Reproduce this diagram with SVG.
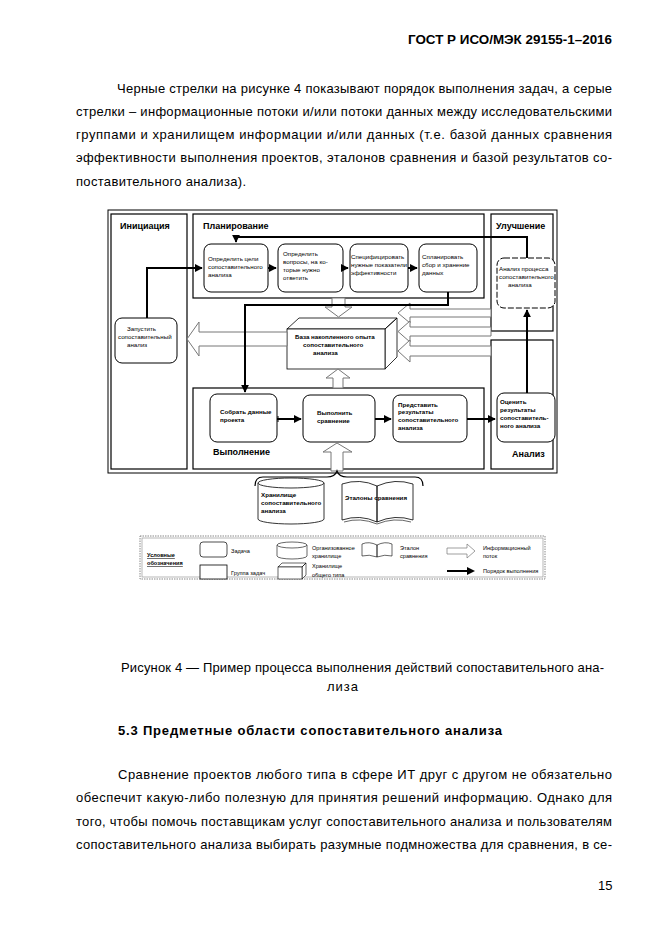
<svg xmlns="http://www.w3.org/2000/svg" width="661" height="934" viewBox="0 0 661 934">
<style>
.body{font-family:"Liberation Sans",Arial,sans-serif;font-size:13px;fill:#000}
.bold{font-weight:bold}
.t{font-family:"Liberation Sans",Arial,sans-serif;font-size:6.2px;fill:#000}
.tb{font-family:"Liberation Sans",Arial,sans-serif;font-size:6.2px;font-weight:bold;fill:#000}
.ttl{font-family:"Liberation Sans",Arial,sans-serif;font-size:9px;font-weight:bold;fill:#000}
.grp{fill:#fff;stroke:#000;stroke-width:1.2}
.task{fill:#fff;stroke:#000;stroke-width:1}
.info{fill:#fff;stroke:#777;stroke-width:1}
.flow{fill:none;stroke:#000;stroke-width:2}
.lg{font-family:"Liberation Sans",Arial,sans-serif;font-size:5.6px;fill:#000}
</style>
<defs>
<marker id="ah" viewBox="0 0 10 10" refX="9" refY="5" markerWidth="4" markerHeight="4" orient="auto" markerUnits="strokeWidth">
<path d="M0,0 L10,5 L0,10 Z" fill="#000"/>
</marker>
</defs>
<rect width="661" height="934" fill="#fff"/>

<text class="body bold" x="408" y="44" textLength="204" lengthAdjust="spacingAndGlyphs">ГОСТ Р ИСО/МЭК 29155-1–2016</text>

<g id="para1">
<text class="body" x="117" y="93" textLength="495" lengthAdjust="spacing">Черные стрелки на рисунке 4 показывают порядок выполнения задач, а серые</text>
<text class="body" x="76" y="116" textLength="536" lengthAdjust="spacing">стрелки – информационные потоки и/или потоки данных между исследовательскими</text>
<text class="body" x="76" y="139" textLength="536" lengthAdjust="spacing">группами и хранилищем информации и/или данных (т.е. базой данных сравнения</text>
<text class="body" x="76" y="162" textLength="536" lengthAdjust="spacing">эффективности выполнения проектов, эталонов сравнения и базой результатов со-</text>
<text class="body" x="76" y="186" textLength="170" lengthAdjust="spacing">поставительного анализа).</text>
</g>

<rect x="108" y="210" width="449" height="263" fill="none" stroke="#000" stroke-width="1"/>

<g id="initiation">
<rect class="grp" x="111" y="214" width="76" height="255"/>
<text class="ttl" x="120" y="229">Инициация</text>
</g>
<g id="planning">
<rect class="grp" x="193" y="214" width="291" height="84"/>
<text class="ttl" x="203" y="229">Планирование</text>
</g>
<g id="improvement">
<rect class="grp" x="491" y="214" width="62" height="117"/>
<text class="ttl" x="496" y="229">Улучшение</text>
</g>
<g id="analysis">
<rect class="grp" x="491" y="340" width="62" height="129"/>
<text class="ttl" x="512" y="457">Анализ</text>
</g>
<g id="execution">
<rect class="grp" x="193" y="388" width="291" height="81"/>
<text class="ttl" x="213" y="455">Выполнение</text>
</g>

<g id="task-goals">
<rect class="task" x="204" y="244" width="64" height="48" rx="7"/>
<text class="t" x="208" y="261">Определить цели</text>
<text class="t" x="208" y="269">сопоставительного</text>
<text class="t" x="208" y="277">анализа</text>
</g>
<g id="task-questions">
<rect class="task" x="278" y="244" width="65" height="48" rx="7"/>
<text class="t" x="283" y="256">Определить</text>
<text class="t" x="283" y="264">вопросы, на ко-</text>
<text class="t" x="283" y="272">торые нужно</text>
<text class="t" x="283" y="280">ответить</text>
</g>
<g id="task-metrics">
<rect class="task" x="350" y="244" width="58" height="48" rx="7"/>
<text class="t" x="351" y="259">Специфицировать</text>
<text class="t" x="351" y="267">нужные показатели</text>
<text class="t" x="351" y="275">эффективности</text>
</g>
<g id="task-plan-data">
<rect class="task" x="419" y="244" width="58" height="48" rx="7"/>
<text class="t" x="422" y="259">Спланировать</text>
<text class="t" x="422" y="267">сбор и хранение</text>
<text class="t" x="422" y="275">данных</text>
</g>
<g id="task-process-analysis">
<rect class="task" x="497" y="258" width="58" height="50" rx="7" stroke-dasharray="6,2"/>
<text class="t" x="499" y="271">Анализ процесса</text>
<text class="t" x="499" y="279">сопоставительного</text>
<text class="t" x="508" y="287">анализа</text>
</g>
<g id="task-launch">
<rect class="task" x="115" y="318" width="62" height="45" rx="7"/>
<text class="t" x="127" y="331">Запустить</text>
<text class="t" x="118" y="339">сопоставительный</text>
<text class="t" x="127" y="347">анализ</text>
</g>
<g id="base">
<path d="M287,329 L299,318 L397,318 L385,329 Z M385,329 L397,318 L397,357 L385,369 Z" fill="#fff" stroke="#000" stroke-width="0.8"/>
<rect x="287" y="329" width="98" height="40" fill="#fff" stroke="#000" stroke-width="0.8"/>
<text class="tb" x="295" y="339">База накопленного опыта</text>
<text class="tb" x="303" y="347">сопоставительного</text>
<text class="tb" x="313" y="355">анализа</text>
</g>
<g id="task-collect">
<rect class="task" x="210" y="394" width="67" height="48" rx="7"/>
<text class="tb" x="220" y="414">Собрать данные</text>
<text class="tb" x="220" y="422">проекта</text>
</g>
<g id="task-compare">
<rect class="task" x="303" y="395" width="72" height="47" rx="7"/>
<text class="tb" x="317" y="415">Выполнить</text>
<text class="tb" x="317" y="423">сравнение</text>
</g>
<g id="task-present">
<rect class="task" x="393" y="395" width="74" height="47" rx="7"/>
<text class="tb" x="398" y="407">Представить</text>
<text class="tb" x="398" y="414">результаты</text>
<text class="tb" x="398" y="422">сопоставительного</text>
<text class="tb" x="398" y="430">анализа</text>
</g>
<g id="task-evaluate">
<rect class="task" x="497" y="393" width="58" height="49" rx="7"/>
<text class="tb" x="500" y="404">Оценить</text>
<text class="tb" x="500" y="412">результаты</text>
<text class="tb" x="500" y="420">сопоставитель-</text>
<text class="tb" x="500" y="428">ного анализа</text>
</g>
<g id="storage">
<path d="M258,483 L258,519 A33,5 0 0 0 324,519 L324,483" fill="#fff" stroke="#000" stroke-width="0.8"/>
<ellipse cx="291" cy="483" rx="33" ry="5" fill="#fff" stroke="#000" stroke-width="0.8"/>
<text class="tb" x="261" y="497">Хранилище</text>
<text class="tb" x="261" y="505">сопоставительного</text>
<text class="tb" x="261" y="513">анализа</text>
</g>
<g id="benchmarks">
<path d="M342,484 Q360,478 377,486 L377,522 Q360,514 342,520 Z M377,486 Q395,478 413,484 L413,520 Q395,514 377,522 Z" fill="#fff" stroke="#000" stroke-width="0.8"/>
<path d="M344,522 Q360,517 377,524 Q394,517 411,522" fill="none" stroke="#000" stroke-width="0.6"/>
<text class="tb" x="345" y="500">Эталоны сравнения</text>
</g>

<g id="connectors">
<path class="info" d="M332,298 L345,298 L345,307 L352,307 L338.5,317 L325,307 L332,307 Z"/>
<path class="info" d="M287,332 L199,332 L199,322 L187,339 L199,356 L199,346 L287,346 Z"/>
<path class="info" d="M333,388 L333,378 L326,378 L338,369 L350,378 L343,378 L343,388 Z"/>
<path class="info" d="M331,471 L331,452 L323,452 L337,443 L352,452 L343,452 L343,471 Z"/>
<path class="info" d="M491,309 L410,309 L410,303 L398,313 L410,323 L410,317 L491,317 Z"/>
<path class="info" d="M491,327 L410,327 L410,321 L398,331.5 L410,342 L410,336 L491,336 Z"/>
<path class="info" d="M491,346 L410,346 L410,340 L398,351 L410,362 L410,356 L491,356 Z"/>
<path d="M255,486 Q255,477 263,477 L327,477 Q335,477 337,471 Q339,477 347,477 L415,477 Q423,477 423,486" fill="none" stroke="#000" stroke-width="1.2"/>

<path class="flow" d="M147,318 L147,268 L202,268" marker-end="url(#ah)"/>
<path class="flow" d="M268,268 L276,268" marker-end="url(#ah)"/>
<path class="flow" d="M343,268 L348,268" marker-end="url(#ah)"/>
<path class="flow" d="M408,268 L417,268" marker-end="url(#ah)"/>
<path class="flow" d="M448,292 L448,305 L245,305 L245,392" marker-end="url(#ah)"/>
<path class="flow" d="M527,258 L527,237 L236,237 L236,242" marker-end="url(#ah)"/>
<path class="flow" d="M527,393 L527,310" marker-end="url(#ah)"/>
<path class="flow" d="M277,419 L301,419" marker-end="url(#ah)"/>
<path d="M278,416 L278,422" stroke="#000" stroke-width="1"/>
<path class="flow" d="M375,419 L391,419" marker-end="url(#ah)"/>
<path class="flow" d="M467,419 L495,419" marker-end="url(#ah)"/>
</g>

<g id="legend">
<rect x="140" y="536" width="405" height="43" fill="none" stroke="#888" stroke-width="1" stroke-dasharray="1.5,1"/>
<rect x="142" y="538" width="401" height="39" fill="none" stroke="#888" stroke-width="0.6"/>
<text class="lg" x="147" y="557" font-weight="bold" text-decoration="underline">Условные</text>
<text class="lg" x="147" y="565" font-weight="bold" text-decoration="underline">обозначения</text>
<rect x="200" y="542" width="27" height="15" rx="3" fill="#fff" stroke="#000" stroke-width="0.7"/>
<text class="lg" x="231" y="553">Задача</text>
<rect x="200" y="565" width="27" height="14" fill="#fff" stroke="#000" stroke-width="0.8"/>
<text class="lg" x="231" y="575">Группа задач</text>
<path d="M277,545 L277,556 A15,3 0 0 0 307,556 L307,545" fill="#fff" stroke="#000" stroke-width="0.6"/>
<ellipse cx="292" cy="545" rx="15" ry="3" fill="#fff" stroke="#000" stroke-width="0.6"/>
<text class="lg" x="312" y="550">Организованное</text>
<text class="lg" x="312" y="558">хранилище</text>
<path d="M278,567 L282,563 L306,563 L302,567 Z M302,567 L306,563 L306,575 L302,579 Z" fill="#fff" stroke="#000" stroke-width="0.6"/>
<rect x="278" y="567" width="24" height="12" fill="#fff" stroke="#000" stroke-width="0.6"/>
<text class="lg" x="312" y="568">Хранилище</text>
<text class="lg" x="312" y="577">общего типа</text>
<path d="M362,544 Q369,541 377,545 L377,557 Q369,554 362,556 Z M377,545 Q385,541 392,544 L392,556 Q385,554 377,557 Z" fill="#fff" stroke="#000" stroke-width="0.6"/>
<text class="lg" x="400" y="550">Эталон</text>
<text class="lg" x="400" y="558">сравнения</text>
<path d="M447,548 L467,548 L467,544 L475,551 L467,558 L467,554 L447,554 Z" fill="#fff" stroke="#777" stroke-width="0.7"/>
<text class="lg" x="483" y="550">Информационный</text>
<text class="lg" x="483" y="558">поток</text>
<path d="M447,571 L468,571" stroke="#000" stroke-width="2"/>
<path d="M467,567 L475,571 L467,575 Z" fill="#000"/>
<text class="lg" x="483" y="573">Порядок выполнения</text>
</g>

<text class="body" x="121" y="672" textLength="483" lengthAdjust="spacing">Рисунок 4 — Пример процесса выполнения действий сопоставительного ана-</text>
<text class="body" x="327" y="691" textLength="31" lengthAdjust="spacing">лиза</text>

<text class="body bold" x="118" y="735" textLength="384" lengthAdjust="spacing">5.3 Предметные области сопоставительного анализа</text>

<g id="para2">
<text class="body" x="118" y="779" textLength="494" lengthAdjust="spacing">Сравнение проектов любого типа в сфере ИТ друг с другом не обязательно</text>
<text class="body" x="76" y="802" textLength="536" lengthAdjust="spacing">обеспечит какую-либо полезную для принятия решений информацию. Однако для</text>
<text class="body" x="76" y="826" textLength="536" lengthAdjust="spacing">того, чтобы помочь поставщикам услуг сопоставительного анализа и пользователям</text>
<text class="body" x="76" y="849" textLength="536" lengthAdjust="spacing">сопоставительного анализа выбирать разумные подмножества для сравнения, в се-</text>
</g>
<text class="body" x="598" y="890">15</text>
</svg>
